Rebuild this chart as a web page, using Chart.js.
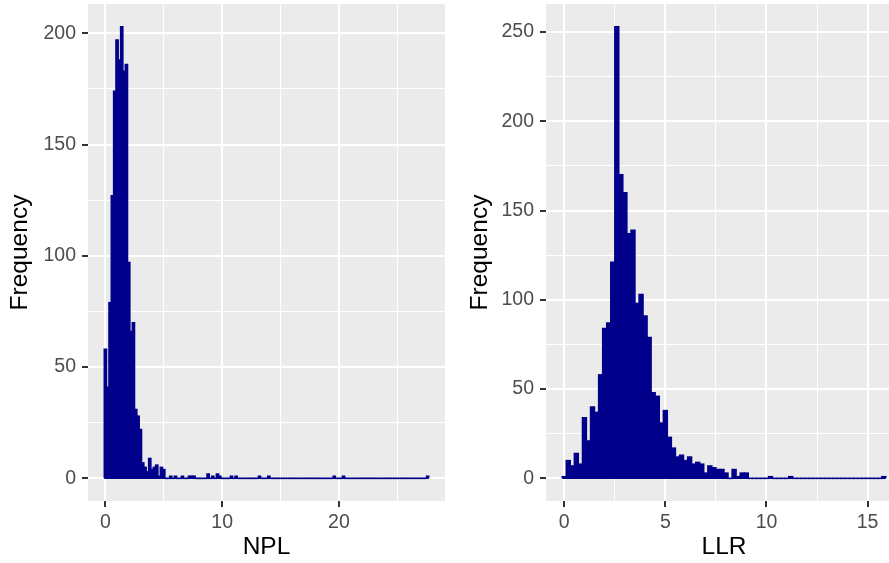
<!DOCTYPE html>
<html><head><meta charset="utf-8">
<script src="https://cdn.jsdelivr.net/npm/chart.js@4"></script>
<style>
html,body{margin:0;padding:0;background:#fff;width:889px;height:563px;overflow:hidden;position:relative}
canvas{position:absolute;top:0}
</style></head><body>
<canvas id="c1" width="445" height="563" style="left:0px"></canvas>
<canvas id="c2" width="456" height="563" style="left:446px"></canvas>
<script>
const binWidth = 0.2;
const nplCounts = [
 58,41,79,127,174,197,188,203,183,186,
 97,66,70,31,28,22,7,5,3,9,
 4,5,6,1,5,4,0,0,1,0,
 1,0,0,1,0,0,1,1,1,0,
 0,0,0,0,2,0,1,0,2,1,
 0,0,0,0,1,0,1,0,0,0,
 0,0,0,0,0,0,1,0,0,0,
 1,0,0,0,0,0,0,0,0,0,
 0,0,0,0,0,0,0,0,0,0,
 0,0,0,0,0,0,0,0,1,0,
 0,0,1,0,0,0,0,0,0,0,
 0,0,0,0,0,0,0,0,0,0,
 0,0,0,0,0,0,0,0,0,0,
 0,0,0,0,0,0,0,0,1
];
const llrCounts = [
 1,10,7,14,8,34,21,40,37,58,
 84,87,121,253,170,160,137,139,98,103,
 91,79,48,46,31,38,23,17,12,13,
 10,12,8,9,8,3,7,6,5,5,
 3,0,5,1,3,3,0,0,0,0,
 0,1,0,0,0,0,1,0,0,0,
 0,0,0,0,0,0,0,0,0,0,
 0,0,0,0,0,0,0,0,0,1
];
const nplXMajor = [0,10,20];
const nplXMinor = [5,15,25];
const nplYMajor = [0,50,100,150,200];
const nplYMinor = [25,75,125,175];
const llrXMajor = [0,5,10,15];
const llrXMinor = [2.5,7.5,12.5];
const llrYMajor = [0,50,100,150,200,250];
const llrYMinor = [25,75,125,175,225];

const FAM = "'Liberation Sans', Arial, Helvetica, sans-serif";
const BAR = '#00008B';

const bgPlugin = {id:'bg', beforeDraw(chart){
  const {ctx, chartArea:a} = chart;
  ctx.save(); ctx.fillStyle = '#EBEBEB';
  ctx.fillRect(a.left, a.top, a.right-a.left, a.bottom-a.top);
  ctx.restore();
}};

function axisOpts(majors, minors, min, max, isX, fitSize, title, titlePad){
  const all = majors.concat(minors).sort((a,b)=>a-b);
  const isMaj = v => majors.includes(v);
  return {
    type:'linear', min, max, offset:false,
    afterBuildTicks: s => { s.ticks = all.map(v=>({value:v})); },
    afterFit: s => {
      if (isX) s.height = fitSize; else s.width = fitSize;
      s.paddingTop = 0; s.paddingBottom = 0; s.paddingLeft = 0; s.paddingRight = 0;
    },
    ticks:{autoSkip:false, maxRotation:0, padding: isX ? 4 : 6, color:'#4D4D4D',
      font:{size:19.5, family:FAM},
      callback: v => isMaj(v) ? String(v) : ''},
    grid:{color:'#FFFFFF', offset:false,
      lineWidth: c => (c.tick && isMaj(c.tick.value)) ? 2 : 1,
      tickColor: c => (c.tick && isMaj(c.tick.value)) ? '#333333' : 'rgba(0,0,0,0)',
      tickWidth: 2, tickLength: 6, drawTicks:true},
    border:{display:false},
    title:{display:true, text:title, color:'#000000', font:{size:24.5, family:FAM}, padding:titlePad}
  };
}

function makeChart(id, counts, xMaj, xMin, yMaj, yMin, xTitle, yAxisWidth, yTitlePadTop){
  const firstEdge = -binWidth/2;
  const lastEdge = (counts.length-1)*binWidth + binWidth/2;
  const xr = lastEdge - firstEdge;
  const ymax = Math.max(...counts);
  const barData = counts.map((c,i)=>({x:i*binWidth, y:c}));
  new Chart(document.getElementById(id), {
    type:'bar',
    data:{datasets:[
      {type:'line', data:[{x:firstEdge,y:0},{x:lastEdge,y:0}], borderColor:BAR, borderWidth:1.3, pointRadius:0, order:0},
      {type:'bar', data:barData, backgroundColor:BAR, borderWidth:0, inflateAmount:0.7, barPercentage:1, categoryPercentage:1, grouped:false, order:1}
    ]},
    options:{
      responsive:false, animation:false, devicePixelRatio:1,
      layout:{padding:{top:4, left:0, right:0, bottom:0}},
      plugins:{legend:{display:false}, tooltip:{enabled:false}},
      scales:{
        x: axisOpts(xMaj, xMin, firstEdge-0.05*xr, lastEdge+0.05*xr, true, 62, xTitle, {top:0,bottom:1}),
        y: axisOpts(yMaj, yMin, -0.05*ymax, 1.05*ymax, false, yAxisWidth, 'Frequency', {top:yTitlePadTop,bottom:0})
      }
    },
    plugins:[bgPlugin]
  });
}
makeChart('c1', nplCounts, nplXMajor, nplXMinor, nplYMajor, nplYMinor, 'NPL', 88, 5.3);
makeChart('c2', llrCounts, llrXMajor, llrXMinor, llrYMajor, llrYMinor, 'LLR', 100, 19.3);
</script>
</body></html>
